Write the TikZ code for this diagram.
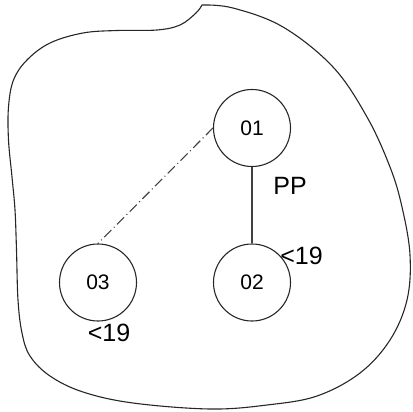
\documentclass[tikz,border=0pt]{standalone}
\usepackage{fontspec}
\setmainfont{Liberation Sans}
\begin{document}
\begin{tikzpicture}[x=1pt,y=-1pt,
  outline/.style={draw=black!85, line width=1.1pt},
  station/.style={circle, draw=black!85, line width=1.1pt, minimum size=77pt, inner sep=0pt, font=\fontsize{21}{21}\selectfont},
  tag/.style={inner sep=0pt, font=\fontsize{25}{25}\selectfont},
  link/.style={draw=black!75, line width=1.1pt},
  dashdot/.style={draw=black!75, line width=1.1pt, dash pattern=on 10pt off 3.5pt on 1pt off 3.5pt}]
\useasboundingbox (0,0) rectangle (412,412);
\draw[outline] plot[smooth, tension=0.6] coordinates {
 (202,5) (233,8) (283,27) (333,67) (367,117) (390,167) (402,207) (410,255) (407,300)
 (390,340) (360,373) (317,396) (267,405) (210,409) (133,403) (83,392) (50,376) (30,356)
 (22,333) (18,300) (16.5,250) (15,210) (12,177) (8.5,140) (8.5,107) (13.5,80) (27,60)
 (50,43) (83,33) (117,30.5) (157,30) (180,25) (196,13) (202,5)};
\node[station] (n1) at (252,128) {01};
\node[station] (n2) at (252,282.5) {02};
\node[station] (n3) at (98,282.5) {03};
\draw[link] (n1.south) -- (n2.north);
\draw[dashdot] (n1.west) -- (n3.north);
\node[tag] (pp) at (290,186) {PP};
\node[tag] (lt2) at (301.5,256) {<19};
\node[tag] (lt3) at (109,333) {<19};
\end{tikzpicture}
\end{document}
